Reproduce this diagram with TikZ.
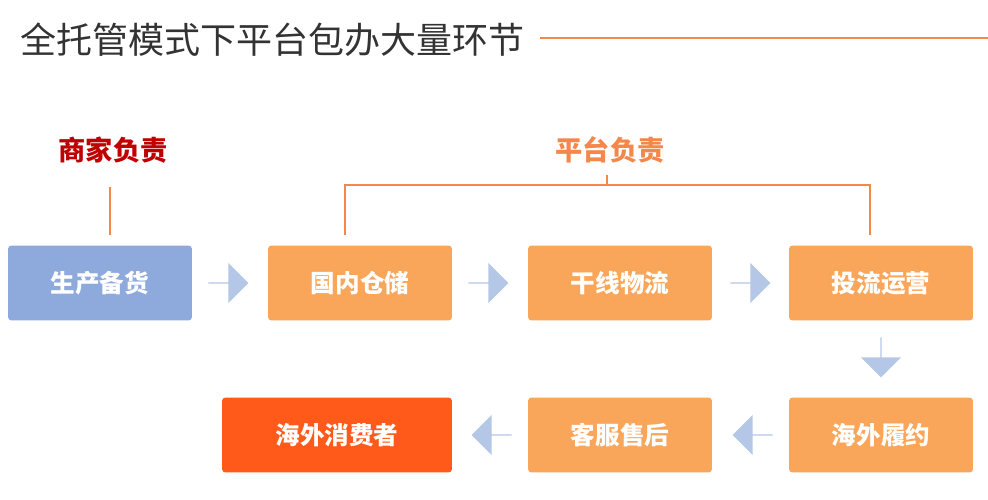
\documentclass[tikz,border=0pt]{standalone}
\usepackage{fontspec}
\setmainfont{Noto Sans CJK SC}
\usetikzlibrary{positioning,shapes.arrows}
\definecolor{boxblue}{HTML}{8EA9DB}
\definecolor{boxorange}{HTML}{F9A65A}
\definecolor{boxred}{HTML}{FF5A1A}
\definecolor{arrblue}{HTML}{B4C7E7}
\definecolor{lineorange}{HTML}{F4874B}
\definecolor{darkred}{HTML}{C00000}
\begin{document}
\begin{tikzpicture}[x=0.02cm,y=-0.02cm,
  stage/.style={rounded corners=2pt,minimum width=3.68cm,minimum height=1.5cm,text=white,font=\fontsize{14}{16}\selectfont\bfseries},
  flow/.style={single arrow,fill=arrblue,minimum height=0.8cm,minimum width=0.8cm,single arrow head extend=0.2cm,single arrow tip angle=90,inner sep=0pt},
  brace/.style={lineorange,line width=0.7pt}]
  \useasboundingbox (0,0) rectangle (988,500);
  \fill[white] (0,0) rectangle (988,500);
  % title
  \node[anchor=west,font=\fontsize{20.5}{23}\selectfont,text=black!80] (title) at (14,40) {全托管模式下平台包办大量环节};
  \coordinate (tl) at (540,38);
  \coordinate (tr) at (988,38);
  \draw[brace] (tl) -- (tr);
  % stages
  \node[stage,fill=boxblue] (s1) at (100,283) {生产备货};
  \node[stage,fill=boxorange] (s2) at (360,283) {国内仓储};
  \node[stage,fill=boxorange] (s3) at (620,283) {干线物流};
  \node[stage,fill=boxorange] (s4) at (881,283) {投流运营};
  \node[stage,fill=boxorange] (s5) at (881,435) {海外履约};
  \node[stage,fill=boxorange] (s6) at (620,435) {客服售后};
  \node[stage,fill=boxred,minimum width=4.6cm] (s7) at (337,435) {海外消费者};
  % arrows
  \node[flow] (f1) at (228,283) {};
  \node[flow] (f2) at (488,283) {};
  \node[flow] (f3) at (750,283) {};
  \node[flow,rotate=-90] (f4) at (881,357) {};
  \node[flow,rotate=180] (f5) at (753,435) {};
  \node[flow,rotate=180] (f6) at (492,435) {};
  % responsibility
  \node[font=\fontsize{15.5}{18}\selectfont\bfseries,text=darkred] (m) at (113,150) {商家负责};
  \node[font=\fontsize{15.5}{18}\selectfont\bfseries,text=lineorange] (p) at (610,150) {平台负责};
  \coordinate (m1) at (110,187);
  \coordinate (m2) at (110,235);
  \draw[brace] (m1) -- (m2);
  \coordinate (b1) at (345,235);
  \coordinate (b2) at (345,185);
  \coordinate (b3) at (870,185);
  \coordinate (b4) at (870,235);
  \coordinate (bt) at (607,175);
  \coordinate (bm) at (607,185);
  \draw[brace] (b1) -- (b2) -- (b3) -- (b4);
  \draw[brace] (bt) -- (bm);
\end{tikzpicture}
\end{document}
